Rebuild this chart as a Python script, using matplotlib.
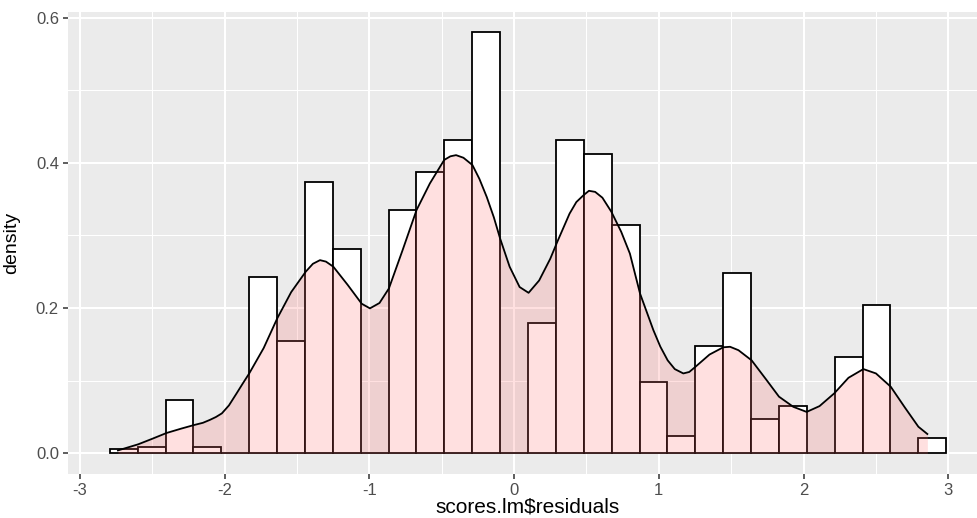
import numpy as np
import matplotlib
matplotlib.use("Agg")
import matplotlib.pyplot as plt

plt.rcParams["font.family"] = ["Liberation Sans", "DejaVu Sans"]

# histogram of the residuals (30 bins, density scale)
bin_start = -2.793
bin_width = 0.1926
hist_density = [0.0055, 0.0092, 0.0734, 0.0092, 0.0, 0.2423, 0.1546, 0.373,
                0.281, 0.0, 0.335, 0.388, 0.432, 0.5795, 0.0, 0.180, 0.432,
                0.4116, 0.314, 0.0977, 0.0238, 0.1477, 0.2486, 0.0472, 0.0655,
                0.0, 0.133, 0.204, 0.0, 0.0206]

# kernel density curve of the same residuals
kde_x = [-2.737, -2.67, -2.597, -2.50, -2.401, -2.30, -2.21, -2.15, -2.102,
         -2.06, -2.019, -1.97, -1.917, -1.875, -1.83, -1.73, -1.636, -1.54,
         -1.44, -1.39, -1.341, -1.30, -1.249, -1.15, -1.053, -0.996, -0.93,
         -0.865, -0.77, -0.674, -0.582, -0.483, -0.44, -0.401, -0.35, -0.288,
         -0.24, -0.189, -0.14, -0.097, -0.031, 0.038, 0.1, 0.173, 0.25,
         0.30, 0.383, 0.43, 0.48, 0.517, 0.56, 0.61, 0.672, 0.74, 0.80, 0.87,
         0.962, 1.01, 1.061, 1.11, 1.169, 1.21, 1.252, 1.35, 1.445, 1.492,
         1.55, 1.641, 1.74, 1.83, 1.929, 2.021, 2.11, 2.212, 2.31, 2.413,
         2.50, 2.602, 2.70, 2.793, 2.855]
kde_y = [0.004, 0.008, 0.0124, 0.020, 0.028, 0.034, 0.039, 0.042, 0.046,
         0.050, 0.055, 0.066, 0.0826, 0.096, 0.110, 0.145, 0.186, 0.222,
         0.25, 0.261, 0.266, 0.264, 0.257, 0.232, 0.206, 0.1996, 0.207,
         0.227, 0.28, 0.335, 0.3716, 0.404, 0.409, 0.4106, 0.407, 0.397,
         0.378, 0.353, 0.325, 0.296, 0.257, 0.229, 0.221, 0.238, 0.268,
         0.292, 0.330, 0.346, 0.3555, 0.3615, 0.360, 0.352, 0.3326, 0.305,
         0.275, 0.220, 0.1697, 0.147, 0.128, 0.116, 0.110, 0.112, 0.119,
         0.136, 0.146, 0.1467, 0.142, 0.128, 0.102, 0.078, 0.064, 0.057,
         0.065, 0.0826, 0.104, 0.116, 0.110, 0.0917, 0.063, 0.0366, 0.0266]

x_ticks = [-3, -2, -1, 0, 1, 2, 3]
x_tick_labels = ["-3", "-2", "-1", "0", "1", "2", "3"]
y_ticks = [0.0, 0.2, 0.4, 0.6]
y_tick_labels = ["0.0", "0.2", "0.4", "0.6"]

fig = plt.figure(figsize=(9.77, 5.18), dpi=100)
ax = fig.add_axes([68 / 977, 43.7 / 518, 920 / 977, 462 / 518])
ax.set_facecolor("#EBEBEB")
for s in ax.spines.values():
    s.set_visible(False)

edges = bin_start + bin_width * np.arange(len(hist_density) + 1)
ax.bar(edges[:-1], hist_density, width=bin_width, align="edge",
       color="white", edgecolor="black", linewidth=1.3, zorder=2)

ax.fill_between(kde_x, kde_y, 0, color="#FF6666", alpha=0.2,
                linewidth=0, zorder=3)
ax.plot(kde_x, kde_y, color="black", linewidth=1.3, zorder=4,
        solid_joinstyle="round")

ax.set_xlim(-3.082, 3.274)
ax.set_ylim(-0.0289, 0.6073)

ax.set_xticks(x_ticks)
ax.set_xticklabels(x_tick_labels)
ax.set_yticks(y_ticks)
ax.set_yticklabels(y_tick_labels)
ax.set_xticks(np.arange(-2.5, 3.5, 1.0), minor=True)
ax.set_yticks([0.1, 0.3, 0.5], minor=True)

ax.set_axisbelow(True)
ax.grid(which="major", color="white", linewidth=1.5)
ax.grid(which="minor", color="white", linewidth=0.75)
ax.tick_params(which="major", length=3.5, width=1.1, color="#333333",
               labelcolor="#4D4D4D", labelsize=12, pad=3)
ax.tick_params(which="minor", length=0)

# axis titles placed in figure pixels
fig.text(528 / 977, 1 - 513 / 518, "scores.lm$residuals", fontsize=15,
         ha="center", va="baseline")
fig.text(12 / 977, 1 - 243 / 518, "density", rotation=90, fontsize=14,
         ha="center", va="center")

fig.savefig("out.png", dpi=100)
